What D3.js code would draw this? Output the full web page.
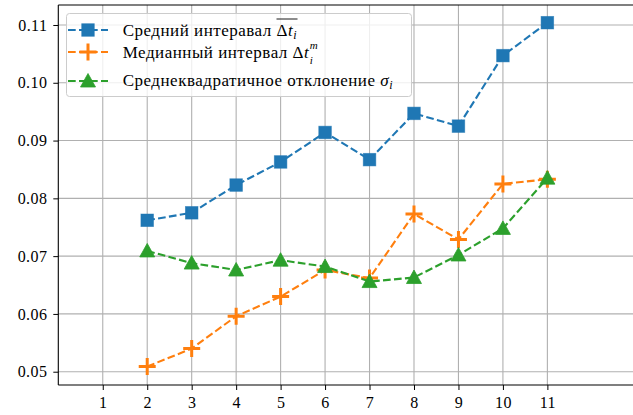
<!DOCTYPE html>
<html>
<head>
<meta charset="utf-8">
<script src="https://cdn.jsdelivr.net/npm/d3@7"></script>
<style>
  html, body { margin: 0; padding: 0; background: #fff; }
</style>
</head>
<body>
<svg id="chart" width="633" height="415"></svg>
<script>
// Interval index
const xs = [2, 3, 4, 5, 6, 7, 8, 9, 10, 11];
// Mean interval
const meanInterval = [0.0762, 0.0775, 0.0823, 0.0863, 0.0914, 0.0867, 0.0947, 0.0925, 0.1047, 0.1104];
// Median interval
const medianInterval = [0.0509, 0.0540, 0.0596, 0.0630, 0.0676, 0.0662, 0.0773, 0.0729, 0.0825, 0.0833];
// Standard deviation
const stdDev = [0.0709, 0.0688, 0.0676, 0.0693, 0.0682, 0.0656, 0.0663, 0.0702, 0.0748, 0.0835];

const xTicks = [1, 2, 3, 4, 5, 6, 7, 8, 9, 10, 11];
const yTicks = [0.05, 0.06, 0.07, 0.08, 0.09, 0.10, 0.11];

const colors = { mean: "#1f77b4", median: "#ff7f0e", std: "#2ca02c" };

// pick the first installed serif face by comparing glyph widths against monospace
function pickFont(cands) {
  const ctx = document.createElement("canvas").getContext("2d");
  const sample = "Средний интервал 0.123 mmmWWiil";
  ctx.font = "40px monospace";
  const base = ctx.measureText(sample).width;
  for (const c of cands) {
    ctx.font = `40px "${c}", monospace`;
    if (Math.abs(ctx.measureText(sample).width - base) > 0.5) return `"${c}", serif`;
  }
  return "serif";
}
const SERIF = pickFont(["Liberation Serif", "Times New Roman", "Tinos", "DejaVu Serif", "Noto Serif", "FreeSerif", "Times"]);

const svg = d3.select("#chart").attr("font-family", SERIF);
const plotLeft = 58.3, plotRight = 636.3, plotTop = 5, plotBottom = 385;

const x = d3.scaleLinear().domain([0, 13]).range([plotLeft, plotRight]);
const y = d3.scaleLinear().domain([0.0477, 0.11346]).range([plotBottom, plotTop]);

// grid
const grid = svg.append("g");
grid.selectAll("line.vx").data(xTicks).enter().append("line")
  .attr("x1", d => x(d)).attr("x2", d => x(d))
  .attr("y1", plotTop).attr("y2", plotBottom)
  .attr("stroke", "#b0b0b0").attr("stroke-width", 1.1);
grid.selectAll("line.hy").data(yTicks).enter().append("line")
  .attr("x1", plotLeft).attr("x2", plotRight)
  .attr("y1", d => y(d)).attr("y2", d => y(d))
  .attr("stroke", "#b0b0b0").attr("stroke-width", 1.1);

// axes
const xAxis = d3.axisBottom(x).tickValues(xTicks).tickSize(5).tickPadding(7)
  .tickFormat(d3.format("d"));
const gx = svg.append("g").attr("transform", `translate(0,${plotBottom})`).call(xAxis);
const yAxis = d3.axisLeft(y).tickValues(yTicks).tickSize(5).tickPadding(6)
  .tickFormat(d3.format(".2f"));
const gy = svg.append("g").attr("transform", `translate(${plotLeft},0)`).call(yAxis);
[gx, gy].forEach(g => {
  g.attr("font-family", SERIF).attr("font-size", 16);
  g.select(".domain").remove();
  g.selectAll(".tick line").attr("stroke", "#000").attr("stroke-width", 1);
  g.selectAll(".tick text").style("font-family", SERIF).attr("font-size", 16)
    .attr("letter-spacing", 0.4).attr("fill", "#000");
});

// spines
const spines = svg.append("g").attr("stroke", "#000").attr("stroke-width", 1.1).attr("fill", "none");
spines.append("line").attr("x1", plotLeft).attr("x2", plotLeft).attr("y1", plotTop).attr("y2", plotBottom);
spines.append("line").attr("x1", plotLeft).attr("x2", plotRight).attr("y1", plotBottom).attr("y2", plotBottom);
spines.append("line").attr("x1", plotLeft).attr("x2", plotRight).attr("y1", plotTop).attr("y2", plotTop);

// marker drawing helper
function marker(g, kind, color, cx, cy) {
  if (kind === "square") {
    g.append("rect").attr("x", cx - 6.3).attr("y", cy - 6.3).attr("width", 12.6).attr("height", 12.6)
      .attr("fill", color).attr("stroke", color).attr("stroke-width", 0.8).attr("stroke-opacity", 0.6);
  } else if (kind === "plus") {
    g.append("path").attr("d", `M${cx - 8.5},${cy}H${cx + 8.5}M${cx},${cy - 8.5}V${cy + 8.5}`)
      .attr("stroke", color).attr("stroke-width", 3).attr("fill", "none");
  } else {
    g.append("path").attr("d", `M${cx},${cy - 7.5}L${cx + 7.5},${cy + 6}L${cx - 7.5},${cy + 6}Z`)
      .attr("fill", color).attr("stroke", color).attr("stroke-width", 0.8);
  }
}

const series = [
  { vals: meanInterval, color: colors.mean, kind: "square" },
  { vals: medianInterval, color: colors.median, kind: "plus" },
  { vals: stdDev, color: colors.std, kind: "triangle" }
];

const line = d3.line().x(d => x(d[0])).y(d => y(d[1]));
series.forEach(s => {
  const g = svg.append("g");
  const pts = xs.map((v, i) => [v, s.vals[i]]);
  g.append("path").attr("d", line(pts)).attr("fill", "none")
    .attr("stroke", s.color).attr("stroke-width", 2.1).attr("stroke-dasharray", "7.7,3.3");
  pts.forEach(p => marker(g, s.kind, s.color, x(p[0]), y(p[1])));
});

// legend
const lg = svg.append("g");
lg.append("rect").attr("x", 66.5).attr("y", 13.5).attr("width", 345).attr("height", 83).attr("rx", 3)
  .attr("fill", "#fff").attr("fill-opacity", 0.8).attr("stroke", "#cccccc").attr("stroke-width", 1);

const rows = [
  { y: 30, s: series[0] },
  { y: 52, s: series[1] },
  { y: 81, s: series[2] }
];
rows.forEach(r => {
  lg.append("line").attr("x1", 68).attr("x2", 108).attr("y1", r.y).attr("y2", r.y)
    .attr("stroke", r.s.color).attr("stroke-width", 2.1).attr("stroke-dasharray", "7.7,3.3");
  marker(lg, r.s.kind, r.s.color, 88, r.y);
});

function label(yPos) {
  return lg.append("text").attr("x", 122.7).attr("y", yPos)
    .style("font-family", SERIF).attr("font-size", 17).attr("letter-spacing", 0.5).attr("fill", "#000");
}

// row 1: mean interval with overline over Δt_i
const t1 = label(36);
t1.append("tspan").text("Средний интеравал ");
t1.append("tspan").text("Δ");
t1.append("tspan").attr("font-style", "italic").text("t");
t1.append("tspan").attr("font-style", "italic").attr("font-size", 12).attr("dy", 3).text("i");
{
  const n = t1.node();
  const start = n.getStartPositionOfChar(18).x;
  const end = n.getEndPositionOfChar(n.getNumberOfChars() - 1).x;
  lg.append("line").attr("x1", start).attr("x2", end + 0.5).attr("y1", 19).attr("y2", 19)
    .attr("stroke", "#000").attr("stroke-width", 0.9);
}

// row 2: median interval, Δt with stacked superscript m and subscript i
const t2 = label(58);
t2.append("tspan").text("Медианный интервал Δ");
t2.append("tspan").attr("font-style", "italic").text("t");
{
  const n = t2.node();
  const after = n.getEndPositionOfChar(n.getNumberOfChars() - 1).x + 0.5;
  t2.append("tspan").attr("x", after).attr("y", 49).attr("font-size", 11).attr("font-style", "italic").text("m");
  t2.append("tspan").attr("x", after).attr("y", 64).attr("font-size", 11).attr("font-style", "italic").text("i");
}

// row 3: standard deviation
const t3 = label(86);
t3.append("tspan").text("Среднеквадратичное отклонение ");
t3.append("tspan").attr("font-style", "italic").text("σ");
t3.append("tspan").attr("font-style", "italic").attr("font-size", 12).attr("dy", 3).text("i");
</script>
</body>
</html>
